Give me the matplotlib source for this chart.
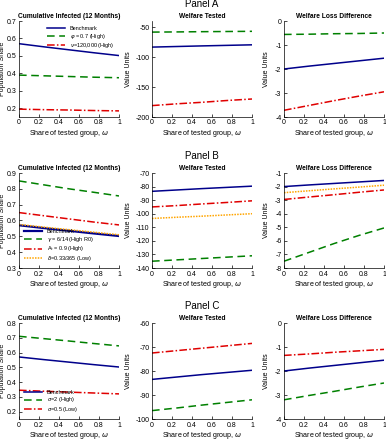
import numpy as np
import matplotlib
matplotlib.use("Agg")
import matplotlib.pyplot as plt

plt.rcParams['font.family'] = ['Liberation Sans', 'DejaVu Sans']
plt.rcParams['mathtext.fontset'] = 'dejavusans'

# share of tested group
omega = [0, 0.25, 0.5, 0.75, 1]

# benchmark series (same in every panel)
cum_bench = [0.570, 0.552, 0.535, 0.518, 0.502]
wt_bench = [-83.5, -82.5, -81.5, -80.6, -79.7]
wl_bench = [-2.00, -1.88, -1.77, -1.66, -1.55]

# Panel A
A_cum_1 = [0.390, 0.386, 0.382, 0.378, 0.375]
A_cum_2 = [0.195, 0.192, 0.190, 0.187, 0.185]
A_wt_1 = [-58.5, -58.2, -57.8, -57.5, -57.2]
A_wt_2 = [-181, -178, -175.5, -172.5, -170]
A_wl_1 = [-0.56, -0.55, -0.53, -0.52, -0.50]
A_wl_2 = [-3.72, -3.52, -3.32, -3.13, -2.95]
A_labels = ["Benchmark", r"$\varphi$ = 0.7 (High)", r"$\nu$=120,000 (High)"]

# Panel B
B_cum_1 = [0.850, 0.825, 0.800, 0.778, 0.755]
B_cum_2 = [0.650, 0.630, 0.610, 0.590, 0.572]
B_cum_3 = [0.575, 0.558, 0.542, 0.526, 0.510]
B_wt_1 = [-135, -134, -133, -132, -131]
B_wt_2 = [-95, -94, -92.8, -91.7, -90.5]
B_wt_3 = [-103.5, -102.6, -101.8, -100.9, -100]
B_wl_1 = [-7.5, -6.85, -6.2, -5.6, -5.05]
B_wl_2 = [-2.95, -2.77, -2.60, -2.42, -2.25]
B_wl_3 = [-2.45, -2.31, -2.17, -2.04, -1.90]
B_labels = ["Benchmark", r"$\gamma$ = 6/14 (High R0)", r"A$_t$ = 0.9 (High)",
            r"$\delta$=0.33/365 (Low)"]

# Panel C
C_cum_1 = [0.710, 0.694, 0.678, 0.661, 0.645]
C_cum_2 = [0.345, 0.338, 0.332, 0.326, 0.320]
C_wt_1 = [-96.5, -95.4, -94.2, -93.1, -92]
C_wt_2 = [-72.5, -71.5, -70.5, -69.5, -68.5]
C_wl_1 = [-3.20, -3.02, -2.85, -2.67, -2.50]
C_wl_2 = [-1.35, -1.29, -1.22, -1.16, -1.10]
C_labels = ["Benchmark", r"$\sigma$=2 (High)", r"$\sigma$=0.5 (Low)"]

styles = [dict(color='#00008B', ls='-'),
          dict(color='#008000', ls=(0, (5, 3))),
          dict(color='#E00000', ls=(0, (5, 1.5, 1, 1.5))),
          dict(color='#FFA500', ls=(0, (1, 0.8)))]

W, H = 386, 440
fig = plt.figure(figsize=(W / 100, H / 100), dpi=100)


def add_ax(x0, x1, top, bottom):
    return fig.add_axes([x0 / W, 1 - bottom / H, (x1 - x0) / W, (bottom - top) / H])


def style_ax(ax, title, ylabel, ylab_x, ylim, yticks):
    ax.set_xlim(0, 1)
    ax.set_ylim(*ylim)
    ax.set_yticks(yticks)
    ax.set_xticks([0, 0.2, 0.4, 0.6, 0.8, 1])
    ax.set_xticklabels(['0', '0.2', '0.4', '0.6', '0.8', '1'])
    ax.set_yticklabels([('%g' % t) for t in yticks])
    ax.tick_params(labelsize=5, direction='in', length=2, width=0.5, pad=1.8)
    for s in ['top', 'right']:
        ax.spines[s].set_visible(False)
    for s in ['left', 'bottom']:
        ax.spines[s].set_linewidth(0.5)
    ax.set_title(title, fontsize=4.8, fontweight='bold', pad=2.5)
    ax.set_ylabel(ylabel, fontsize=5)
    ax.yaxis.set_label_coords(ylab_x, 0.5)
    ax.set_xlabel(r"Share of tested group, $\omega$", fontsize=5.1, labelpad=1)


panels = [
    ("Panel A", 21, 117, [cum_bench, A_cum_1, A_cum_2], [wt_bench, A_wt_1, A_wt_2],
     [wl_bench, A_wl_1, A_wl_2], A_labels,
     ((0.15, 0.7), [0.2, 0.3, 0.4, 0.5, 0.6, 0.7]),
     ((-200, -40), [-200, -150, -100, -50]),
     ((-4, 0), [-4, -3, -2, -1, 0]), 'upper right', [0, 1, 2]),
    ("Panel B", 173, 268, [cum_bench, B_cum_1, B_cum_2, B_cum_3], [wt_bench, B_wt_1, B_wt_2, B_wt_3],
     [wl_bench, B_wl_1, B_wl_2, B_wl_3], B_labels,
     ((0.3, 0.9), [0.3, 0.4, 0.5, 0.6, 0.7, 0.8, 0.9]),
     ((-140, -70), [-140, -130, -120, -110, -100, -90, -80, -70]),
     ((-8, -1), [-8, -7, -6, -5, -4, -3, -2, -1]), 'lower left', [0, 1, 2, 3]),
    ("Panel C", 323, 419, [cum_bench, C_cum_1, C_cum_2], [wt_bench, C_wt_1, C_wt_2],
     [wl_bench, C_wl_1, C_wl_2], C_labels,
     ((0.15, 0.8), [0.2, 0.3, 0.4, 0.5, 0.6, 0.7, 0.8]),
     ((-100, -60), [-100, -90, -80, -70, -60]),
     ((-4, 0), [-4, -3, -2, -1, 0]), 'lower left', [0, 1, 2]),
]

for (name, top, bottom, cum, wt, wl, labels, lim1, lim2, lim3, loc, sidx) in panels:
    ax1 = add_ax(19, 119, top, bottom)
    ax2 = add_ax(152, 252, top, bottom)
    ax3 = add_ax(284, 384, top, bottom)
    for i, s in enumerate(sidx):
        lw = 1.6 if (i == 0 and name == "Panel B") else 1.1
        ax1.plot(omega, cum[i], lw=lw, label=labels[i], **styles[s])
        ax2.plot(omega, wt[i], lw=1.1, **styles[s])
        ax3.plot(omega, wl[i], lw=1.1, **styles[s])
    style_ax(ax1, "Cumulative Infected (12 Months)", "Population Share", -0.125, *lim1)
    style_ax(ax2, "Welfare Tested", "Value Units", -0.205, *lim2)
    style_ax(ax3, "Welfare Loss Difference", "Value Units", -0.14, *lim3)
    ax1.legend(loc=loc, fontsize=4, frameon=False, handlelength=3.3, labelspacing=0.1,
               borderaxespad=0.5)
    fig.text(202 / W, 1 - (top - 17) / H, name, ha='center', va='center', fontsize=7)

fig.savefig("out.png", dpi=100)
